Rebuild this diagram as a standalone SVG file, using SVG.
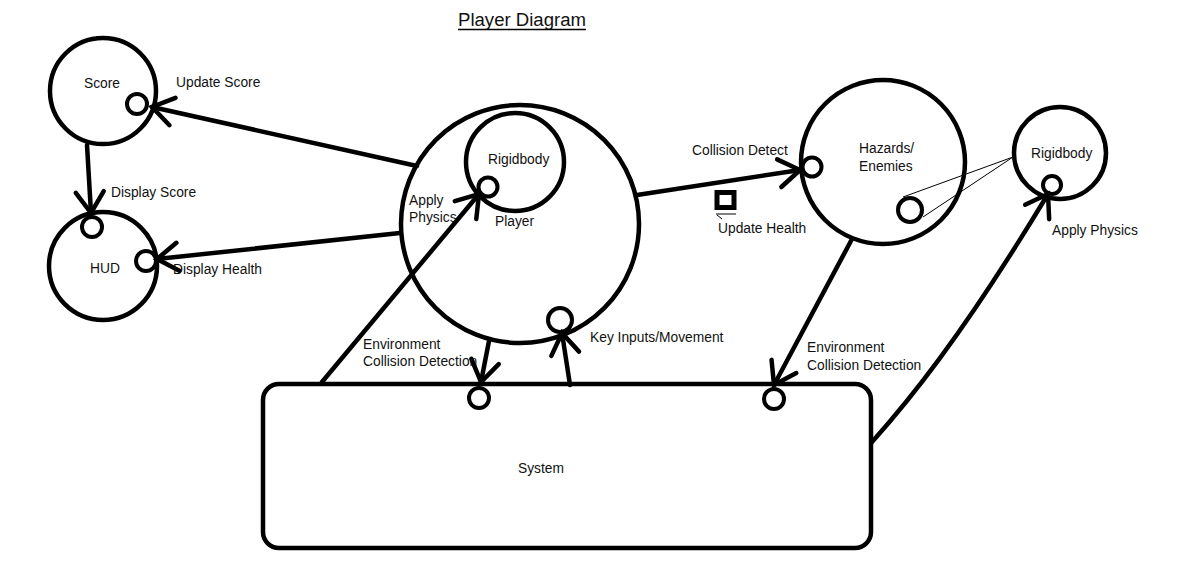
<svg xmlns="http://www.w3.org/2000/svg" width="1183" height="583" viewBox="0 0 1183 583">
<defs>
<style>
.n{fill:none;stroke:#000;stroke-width:4.5}
.p{fill:#fff;stroke:#000;stroke-width:4}
.c{fill:none;stroke:#000;stroke-width:4.5;stroke-linecap:round}
.t{fill:none;stroke:#000;stroke-width:1}
text{font-family:"Liberation Sans",Arial,sans-serif;font-size:13.8px;fill:#111}
.title{font-size:18px}
</style>
<marker id="arr" markerUnits="userSpaceOnUse" markerWidth="50" markerHeight="50" viewBox="-30 -25 50 50" refX="0" refY="0" orient="auto">
<path d="M-21,-14 L0,0 L-21,14" fill="none" stroke="#000" stroke-width="4.5" stroke-linecap="round"/>
</marker>
</defs>
<rect width="1183" height="583" fill="#fff"/>
<g id="title">
<text class="title" x="458" y="26" textLength="128" lengthAdjust="spacingAndGlyphs">Player Diagram</text>
<line x1="458" y1="29.5" x2="586" y2="29.5" stroke="#000" stroke-width="1.5"/>
</g>
<g id="score">
<circle class="n" cx="103" cy="91" r="53"/>
<text x="84" y="88">Score</text>
<circle class="p" cx="137" cy="104" r="10"/>
</g>
<g id="hud">
<circle class="n" cx="103" cy="266" r="54"/>
<text x="90" y="273">HUD</text>
<circle class="p" cx="92" cy="227" r="10"/>
<circle class="p" cx="146" cy="261" r="10"/>
</g>
<g id="player">
<circle class="n" cx="520" cy="224" r="119"/>
<circle class="n" cx="515" cy="162" r="49"/>
<text x="488" y="164">Rigidbody</text>
<text x="495" y="226">Player</text>
<circle class="p" cx="488" cy="187" r="9.5"/>
<circle class="p" cx="560" cy="320" r="12"/>
</g>
<g id="hazards">
<circle class="n" cx="883" cy="162" r="82"/>
<text x="859" y="153">Hazards/</text>
<text x="859" y="171">Enemies</text>
<circle class="p" cx="910" cy="210" r="12"/>
<circle class="p" cx="812" cy="167" r="9.5"/>
</g>
<g id="rigidbody2">
<circle class="n" cx="1060" cy="153" r="46"/>
<text x="1031" y="158">Rigidbody</text>
<circle class="p" cx="1052" cy="185" r="9"/>
</g>
<g id="system">
<rect class="n" x="263" y="384" width="608" height="164" rx="16"/>
<text x="518" y="473">System</text>
<circle class="p" cx="479" cy="398" r="10"/>
<circle class="p" cx="774" cy="399" r="10"/>
</g>
<g id="connectors">
<line class="c" x1="417" y1="166" x2="152" y2="107" marker-end="url(#arr)"/>
<line class="c" x1="87" y1="145" x2="91" y2="213" marker-end="url(#arr)"/>
<line class="c" x1="400" y1="233" x2="157" y2="259" marker-end="url(#arr)"/>
<line class="c" x1="322" y1="382" x2="479" y2="194" marker-end="url(#arr)"/>
<line class="c" x1="489" y1="341" x2="481" y2="382" marker-end="url(#arr)"/>
<line class="c" x1="570" y1="385" x2="562" y2="333" marker-end="url(#arr)"/>
<line class="c" x1="637" y1="195" x2="800" y2="170" marker-end="url(#arr)"/>
<line class="c" x1="852" y1="239" x2="774" y2="385" marker-end="url(#arr)"/>
<path class="c" d="M872,442 C905,405 960,340 1048,194" marker-end="url(#arr)"/>
<line class="t" x1="903" y1="197" x2="1013" y2="157"/>
<line class="t" x1="923" y1="217" x2="1013" y2="157"/>
</g>
<g id="update-health">
<rect x="717" y="192.5" width="17" height="15" fill="none" stroke="#000" stroke-width="5"/>
<line class="t" x1="716" y1="214" x2="736" y2="214"/>
<line class="t" x1="717" y1="215" x2="722" y2="219"/>
</g>
<g id="labels">
<text x="176" y="87">Update Score</text>
<text x="111" y="197">Display Score</text>
<text x="173" y="274">Display Health</text>
<text x="409" y="205">Apply</text>
<text x="409" y="222">Physics</text>
<text x="363" y="349">Environment</text>
<text x="363" y="366">Collision Detection</text>
<text x="590" y="342">Key Inputs/Movement</text>
<text x="692" y="155">Collision Detect</text>
<text x="718" y="233">Update Health</text>
<text x="807" y="352">Environment</text>
<text x="807" y="370">Collision Detection</text>
<text x="1052" y="235">Apply Physics</text>
</g>
</svg>
